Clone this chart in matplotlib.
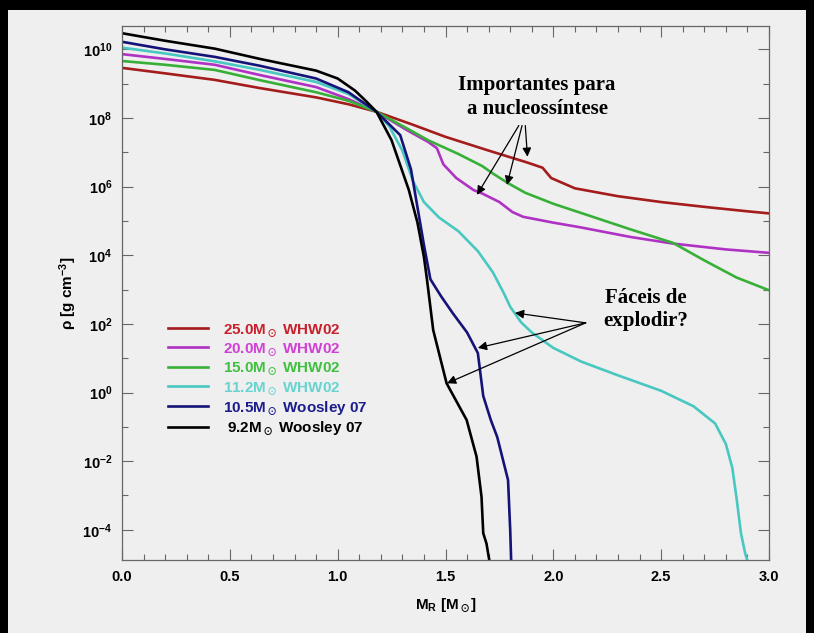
import numpy as np
import matplotlib
matplotlib.use('Agg')
import matplotlib.pyplot as plt
from matplotlib.ticker import FixedLocator, NullFormatter
from matplotlib.lines import Line2D

plt.rcParams['font.family'] = 'Liberation Sans'
plt.rcParams['font.weight'] = 'bold'
plt.rcParams['axes.labelweight'] = 'bold'
plt.rcParams['mathtext.fontset'] = 'custom'
plt.rcParams['mathtext.rm'] = 'Liberation Sans:bold'
plt.rcParams['mathtext.it'] = 'Liberation Sans:italic:bold'
plt.rcParams['mathtext.bf'] = 'Liberation Sans:bold'
plt.rcParams['mathtext.default'] = 'rm'
plt.rcParams['mathtext.fallback'] = 'stixsans'

# density profiles: enclosed mass [Msun] and log10 rho [g cm^-3]
m25 = [0, 0.2, 0.43, 0.64, 0.9, 1.05, 1.18, 1.35, 1.5, 1.7, 1.88, 1.95, 1.99, 2.1, 2.3, 2.5, 2.7, 2.9, 3.0]
rho25 = [9.46, 9.3, 9.11, 8.87, 8.6, 8.4, 8.18, 7.8, 7.45, 7.05, 6.7, 6.55, 6.25, 5.95, 5.72, 5.55, 5.41, 5.28, 5.22]

m20 = [0, 0.2, 0.43, 0.64, 0.9, 1.05, 1.18, 1.32, 1.42, 1.46, 1.49, 1.55, 1.63, 1.67, 1.75, 1.81, 1.86, 2.0, 2.12, 2.36, 2.555, 2.8, 3.0]
rho20 = [9.86, 9.72, 9.55, 9.25, 8.9, 8.55, 8.18, 7.65, 7.3, 7.12, 6.65, 6.25, 5.9, 5.8, 5.55, 5.26, 5.12, 4.95, 4.82, 4.53, 4.34, 4.17, 4.07]

m15 = [0, 0.2, 0.43, 0.64, 0.9, 1.05, 1.18, 1.32, 1.42, 1.56, 1.67, 1.72, 1.79, 1.87, 2.0, 2.12, 2.36, 2.555, 2.7, 2.85, 3.0]
rho15 = [9.66, 9.55, 9.4, 9.1, 8.75, 8.5, 8.18, 7.7, 7.35, 6.95, 6.6, 6.38, 6.1, 5.82, 5.5, 5.25, 4.75, 4.36, 3.85, 3.35, 2.98]

m112 = [0, 0.2, 0.43, 0.64, 0.9, 1.05, 1.18, 1.24, 1.3, 1.35, 1.4, 1.47, 1.56, 1.65, 1.72, 1.77, 1.8, 1.85, 1.9, 2.0,
        2.13, 2.3, 2.5, 2.65, 2.75, 2.8, 2.83, 2.85, 2.87, 2.89, 2.905]
rho112 = [10.05, 9.88, 9.65, 9.4, 9.05, 8.7, 8.18, 7.75, 7.05, 6.15, 5.55, 5.1, 4.7, 4.12, 3.5, 2.9, 2.5, 2.05, 1.75, 1.3,
          0.9, 0.5, 0.05, -0.4, -0.9, -1.5, -2.2, -3.1, -4.1, -4.7, -5.0]

m105 = [0, 0.2, 0.43, 0.64, 0.9, 1.05, 1.18, 1.29, 1.34, 1.37, 1.40, 1.43, 1.48, 1.535, 1.6, 1.65, 1.675, 1.71, 1.74, 1.79, 1.8, 1.805]
rho105 = [10.22, 10.0, 9.78, 9.52, 9.15, 8.75, 8.18, 7.5, 6.5, 5.4, 4.3, 3.3, 2.8, 2.3, 1.75, 1.15, -0.1, -0.8, -1.3, -2.55, -4.0, -5.0]

m92 = [0, 0.2, 0.43, 0.64, 0.9, 1.0, 1.08, 1.13, 1.18, 1.25, 1.33, 1.37, 1.4, 1.414, 1.443, 1.505, 1.598, 1.644, 1.667, 1.675, 1.69, 1.706]
rho92 = [10.47, 10.25, 10.02, 9.72, 9.38, 9.15, 8.8, 8.5, 8.18, 7.35, 5.9, 4.95, 3.95, 3.3, 1.82, 0.27, -0.8, -1.87, -3.04, -4.1, -4.4, -5.0]

labels = [r'25.0M$_\odot$ WHW02', r'20.0M$_\odot$ WHW02', r'15.0M$_\odot$ WHW02',
          r'11.2M$_\odot$ WHW02', r'10.5M$_\odot$ Woosley 07', r' 9.2M$_\odot$ Woosley 07']
line_colors = ['#a41c1c', '#b032c4', '#38b038', '#48c8c0', '#141478', '#000000']
text_colors = ['#c8202c', '#d040d4', '#40c040', '#68d4d0', '#1c1c8c', '#000000']

xticks = [0.0, 0.5, 1.0, 1.5, 2.0, 2.5, 3.0]
xminor = [0.1 * i for i in range(31)]
yexps = [-4, -2, 0, 2, 4, 6, 8, 10]

fig = plt.figure(figsize=(8.14, 6.33), dpi=100, facecolor='black')
fig.patches.append(plt.Rectangle((8 / 814, 0), 798 / 814, 623 / 633, transform=fig.transFigure,
                                 facecolor='#efefef', edgecolor='none', zorder=-10))

ax = fig.add_axes([122 / 814, (633 - 560) / 633, (769 - 122) / 814, (560 - 26) / 633])
ax.set_facecolor('#efefef')

series = [(m25, rho25), (m20, rho20), (m15, rho15), (m112, rho112), (m105, rho105), (m92, rho92)]
for (m, r), c in zip(series, line_colors):
    ax.plot(m, 10.0 ** np.array(r), color=c, lw=1.9, solid_joinstyle='round')

ax.set_yscale('log')
ax.set_xlim(0, 3)
ax.set_ylim(10 ** -4.88, 10 ** 10.68)

ax.yaxis.set_major_locator(FixedLocator([10.0 ** e for e in yexps]))
ax.yaxis.set_minor_locator(FixedLocator([10.0 ** e for e in range(-3, 10, 2)]))
ax.yaxis.set_minor_formatter(NullFormatter())
ax.set_yticklabels([r'$10^{%d}$' % e for e in yexps])
ax.xaxis.set_major_locator(FixedLocator(xticks))
ax.xaxis.set_minor_locator(FixedLocator(xminor))
ax.set_xticklabels(['%.1f' % v for v in xticks])

ax.tick_params(which='both', direction='in', top=True, right=True, color='#666666', width=0.8,
               labelsize=10.5, pad=7)
ax.tick_params(which='major', length=8)
ax.tick_params(which='minor', length=4)
for s in ax.spines.values():
    s.set_color('#666666')
    s.set_linewidth(0.9)

ax.set_xlabel(r'M$_R$ [M$_\odot$]', fontsize=11, labelpad=9)
ax.set_ylabel(r'$\rho$ [g cm$^{-3}$]', fontsize=11, labelpad=2)

handles = [Line2D([], [], color=c, lw=1.9) for c in line_colors]
ax.legend(handles, labels, loc='upper left', bbox_to_anchor=(0.06, 0.46), frameon=False,
          fontsize=11, handlelength=2.6, handletextpad=1.0, labelspacing=0.15, borderpad=0,
          labelcolor=text_colors)

serif = dict(fontfamily='Liberation Serif', fontweight='bold', fontsize=15, ha='center',
             va='center', linespacing=1.25)
ax.text(1.925, 10 ** 8.62, 'Importantes para\na nucleossíntese', **serif)
ax.text(2.43, 10 ** 2.42, 'Fáceis de\nexplodir?', **serif)

arrow = dict(arrowstyle='-|>', color='black', lw=0.9, mutation_scale=13, shrinkA=0, shrinkB=0)
for x0, x1, y1 in [(1.84, 1.646, 5.76), (1.855, 1.785, 6.05), (1.87, 1.88, 6.87)]:
    ax.annotate('', xy=(x1, 10 ** y1), xytext=(x0, 10 ** 7.78), arrowprops=arrow)
for x1, y1 in [(1.822, 2.32), (1.65, 1.3), (1.507, 0.27)]:
    ax.annotate('', xy=(x1, 10 ** y1), xytext=(2.15, 10 ** 2.03), arrowprops=arrow)

fig.savefig('out.png', dpi=100, facecolor=fig.get_facecolor())
